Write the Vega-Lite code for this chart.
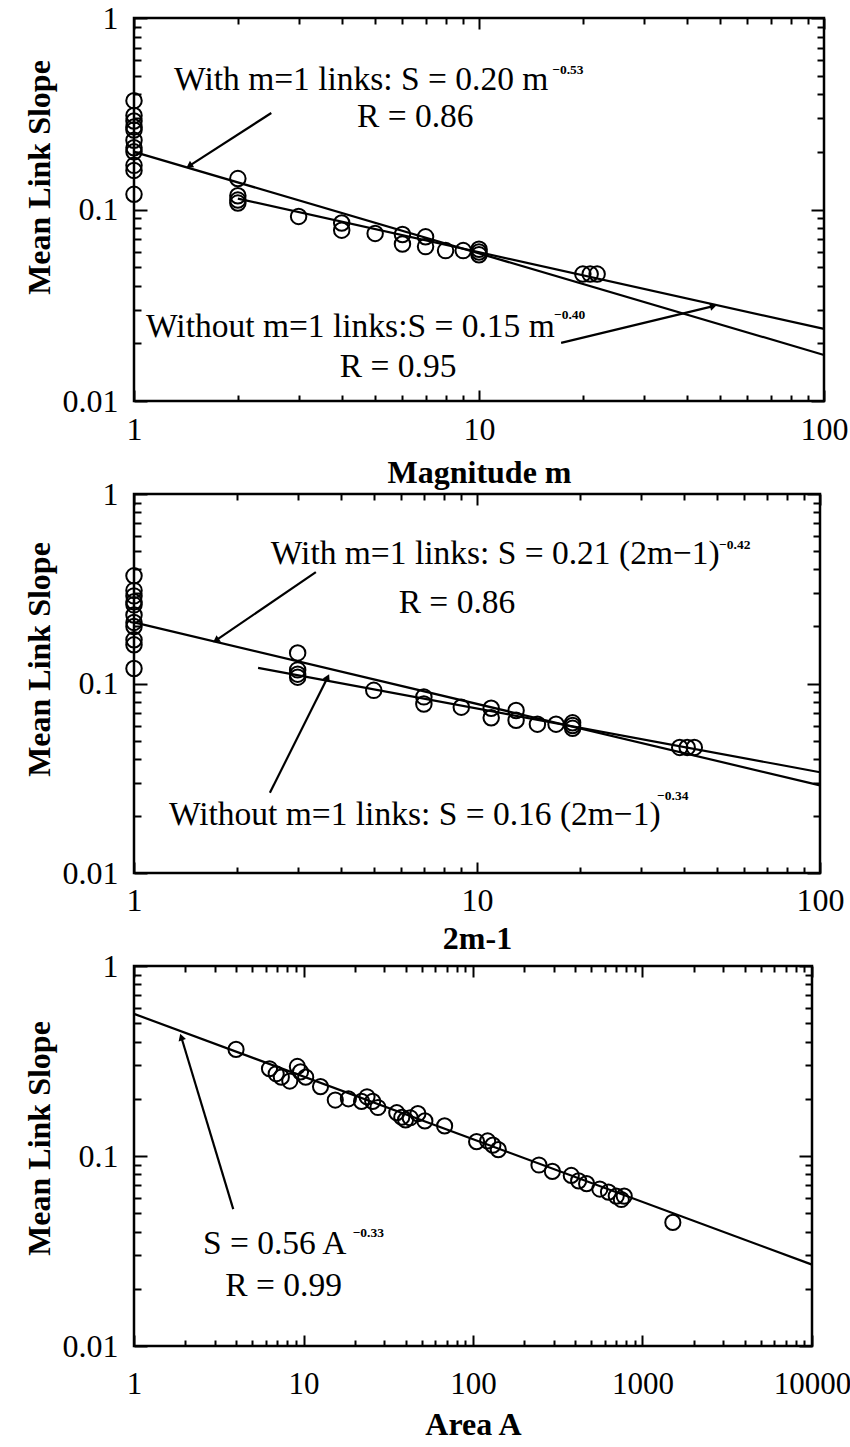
{
  "$schema": "https://vega.github.io/schema/vega-lite/v6.json",
  "background": "white",
  "padding": {"left": 21, "top": 0, "right": 0, "bottom": 0},
  "config": {
    "view": {"stroke": "black", "strokeWidth": 2.5},
    "font": "Liberation Serif",
    "axis": {"grid": false, "domain": false, "labelFont": "Liberation Serif", "labelFontSize": 32, "labelColor": "black", "tickColor": "black", "tickWidth": 2, "titleFont": "Liberation Serif", "titleFontSize": 32, "titleFontWeight": "bold", "titleColor": "black"}
  },
  "datasets": {
    "mpts": [
      {"m": 1, "m2": 1, "s": 0.37}, {"m": 1, "m2": 1, "s": 0.31}, {"m": 1, "m2": 1, "s": 0.29}, {"m": 1, "m2": 1, "s": 0.27}, {"m": 1, "m2": 1, "s": 0.26}, {"m": 1, "m2": 1, "s": 0.23}, {"m": 1, "m2": 1, "s": 0.21}, {"m": 1, "m2": 1, "s": 0.2}, {"m": 1, "m2": 1, "s": 0.17}, {"m": 1, "m2": 1, "s": 0.16}, {"m": 1, "m2": 1, "s": 0.12},
      {"m": 2, "m2": 3, "s": 0.145}, {"m": 2, "m2": 3, "s": 0.118}, {"m": 2, "m2": 3, "s": 0.112}, {"m": 2, "m2": 3, "s": 0.108},
      {"m": 3, "m2": 5, "s": 0.092},
      {"m": 4, "m2": 7, "s": 0.085}, {"m": 4, "m2": 7, "s": 0.078},
      {"m": 5, "m2": 9, "s": 0.075},
      {"m": 6, "m2": 11, "s": 0.074}, {"m": 6, "m2": 11, "s": 0.066},
      {"m": 7, "m2": 13, "s": 0.072}, {"m": 7, "m2": 13, "s": 0.064},
      {"m": 8, "m2": 15, "s": 0.061},
      {"m": 9, "m2": 17, "s": 0.061},
      {"m": 10, "m2": 19, "s": 0.062}, {"m": 10, "m2": 19, "s": 0.06}, {"m": 10, "m2": 19, "s": 0.058},
      {"m": 20, "m2": 39, "s": 0.046}, {"m": 21, "m2": 41, "s": 0.046}, {"m": 22, "m2": 43, "s": 0.046}
    ],
    "apts": [
      {"A": 4.0, "s": 0.364}, {"A": 6.3, "s": 0.288}, {"A": 6.9, "s": 0.271}, {"A": 7.4, "s": 0.26}, {"A": 8.3, "s": 0.248}, {"A": 9.2, "s": 0.296}, {"A": 9.6, "s": 0.277}, {"A": 10.3, "s": 0.26}, {"A": 12.6, "s": 0.232}, {"A": 15.4, "s": 0.197}, {"A": 18.4, "s": 0.2}, {"A": 22, "s": 0.194}, {"A": 23.7, "s": 0.205}, {"A": 25.6, "s": 0.194}, {"A": 27.5, "s": 0.18}, {"A": 35.5, "s": 0.169}, {"A": 38, "s": 0.16}, {"A": 40, "s": 0.155}, {"A": 42.6, "s": 0.159}, {"A": 47.3, "s": 0.167}, {"A": 52, "s": 0.153}, {"A": 68, "s": 0.144}, {"A": 105, "s": 0.119}, {"A": 122, "s": 0.12}, {"A": 131, "s": 0.114}, {"A": 141, "s": 0.108}, {"A": 245, "s": 0.0897}, {"A": 294, "s": 0.083}, {"A": 380, "s": 0.079}, {"A": 420, "s": 0.074}, {"A": 468, "s": 0.0715}, {"A": 560, "s": 0.067}, {"A": 630, "s": 0.0646}, {"A": 700, "s": 0.0615}, {"A": 750, "s": 0.059}, {"A": 780, "s": 0.0615}, {"A": 1510, "s": 0.0447}
    ],
    "p1fitA": [{"x": 1, "s": 0.2}, {"x": 100, "s": 0.0174}],
    "p1fitB": [{"x": 2, "s": 0.114}, {"x": 100, "s": 0.0238}],
    "p1arr": [{"x": 2.5, "y": 0.319, "x2": 1.446, "y2": 0.169}, {"x": 17.3, "y": 0.0201, "x2": 47.8, "y2": 0.0313}],
    "p1txt": [
      {"x": 1.307, "y": 0.42, "t": "With m=1 links:  S = 0.20 m"},
      {"x": 4.43, "y": 0.27, "t": "R = 0.86"},
      {"x": 1.084, "y": 0.0216, "t": "Without m=1 links:S = 0.15 m"},
      {"x": 3.95, "y": 0.0133, "t": "R = 0.95"}
    ],
    "p1sup": [{"x": 16.3, "y": 0.51, "t": "−0.53"}, {"x": 16.5, "y": 0.0268, "t": "−0.40"}],
    "p2fitA": [{"x": 1, "s": 0.21}, {"x": 100, "s": 0.029}],
    "p2fitB": [{"x": 2.3, "s": 0.121}, {"x": 100, "s": 0.034}],
    "p2arr": [{"x": 3.39, "y": 0.387, "x2": 1.733, "y2": 0.169}, {"x": 2.49, "y": 0.0265, "x2": 3.67, "y2": 0.108}],
    "p2txt": [
      {"x": 2.505, "y": 0.426, "t": "With m=1 links:  S = 0.21 (2m−1)"},
      {"x": 5.91, "y": 0.2346, "t": "R = 0.86"},
      {"x": 1.264, "y": 0.01795, "t": "Without m=1 links:  S = 0.16 (2m−1)"}
    ],
    "p2sup": [{"x": 50.8, "y": 0.512, "t": "−0.42"}, {"x": 33.5, "y": 0.0243, "t": "−0.34"}],
    "p3fit": [{"x": 1, "s": 0.56}, {"x": 10000, "s": 0.0268}],
    "p3arr": [{"x": 3.85, "y": 0.0525, "x2": 1.9, "y2": 0.423}],
    "p3txt": [
      {"x": 2.55, "y": 0.0305, "t": "S = 0.56 A"},
      {"x": 3.46, "y": 0.01836, "t": "R = 0.99"}
    ],
    "p3sup": [{"x": 19.5, "y": 0.0373, "t": "−0.33"}]
  },
  "spacing": 93,
  "bounds": "flush",
  "vconcat": [
    {
      "width": 690, "height": 383,
      "resolve": {"axis": {"x": "independent", "y": "independent"}},
      "layer": [
        {
          "data": {"name": "mpts"},
          "mark": {"type": "point", "shape": "circle", "filled": false, "stroke": "black", "strokeWidth": 2, "size": 240, "opacity": 1},
          "encoding": {
            "x": {"field": "m", "type": "quantitative", "scale": {"type": "log", "domain": [1, 100], "nice": false},
              "axis": {"orient": "bottom", "values": [1, 10, 100], "format": "~g", "labelFlush": false, "ticks": false, "labelPadding": 13, "title": "Magnitude m", "titlePadding": 12}},
            "y": {"field": "s", "type": "quantitative", "scale": {"type": "log", "domain": [0.01, 1], "nice": false},
              "axis": {"orient": "left", "values": [0.01, 0.1, 1], "format": "~g", "ticks": false, "labelPadding": 16, "title": "Mean Link Slope", "titlePadding": 6, "titleY": 159}}
          }
        },
        {
          "data": {"name": "p1fitA"},
          "mark": {"type": "line", "color": "black", "strokeWidth": 2.2},
          "encoding": {
            "x": {"field": "x", "type": "quantitative", "scale": {"type": "log", "domain": [1, 100], "nice": false},
              "axis": {"orient": "bottom", "values": [1, 10, 100], "labels": false, "tickSize": -11, "title": null}},
            "y": {"field": "s", "type": "quantitative", "scale": {"type": "log", "domain": [0.01, 1], "nice": false},
              "axis": {"orient": "left", "values": [0.01, 0.1, 1], "labels": false, "tickSize": -13, "title": null}}
          }
        },
        {
          "data": {"name": "p1fitB"},
          "mark": {"type": "line", "color": "black", "strokeWidth": 2.2},
          "encoding": {
            "x": {"field": "x", "type": "quantitative", "scale": {"type": "log", "domain": [1, 100], "nice": false},
              "axis": {"orient": "bottom", "values": [2, 3, 4, 5, 6, 7, 8, 9, 20, 30, 40, 50, 60, 70, 80, 90], "labels": false, "tickSize": -6, "title": null}},
            "y": {"field": "s", "type": "quantitative", "scale": {"type": "log", "domain": [0.01, 1], "nice": false},
              "axis": {"orient": "left", "values": [0.02, 0.03, 0.04, 0.05, 0.06, 0.07, 0.08, 0.09, 0.2, 0.3, 0.4, 0.5, 0.6, 0.7, 0.8, 0.9], "labels": false, "tickSize": -7, "title": null}}
          }
        },
        {
          "data": {"name": "p1arr"},
          "mark": {"type": "rule", "color": "black", "strokeWidth": 2.2},
          "encoding": {
            "x": {"field": "x", "type": "quantitative", "scale": {"type": "log", "domain": [1, 100], "nice": false},
              "axis": {"orient": "top", "values": [1, 10, 100], "labels": false, "tickSize": -11, "title": null}},
            "y": {"field": "y", "type": "quantitative", "scale": {"type": "log", "domain": [0.01, 1], "nice": false},
              "axis": {"orient": "right", "values": [0.01, 0.1, 1], "labels": false, "tickSize": -13, "title": null}},
            "x2": {"field": "x2"},
            "y2": {"field": "y2"}
          }
        },
        {
          "data": {"values": [{"x": 1.446, "y": 0.169}]},
          "mark": {"type": "point", "shape": "triangle-up", "filled": true, "color": "black", "size": 60, "angle": 237, "opacity": 1},
          "encoding": {
            "x": {"field": "x", "type": "quantitative", "scale": {"type": "log", "domain": [1, 100], "nice": false},
              "axis": {"orient": "top", "values": [2, 3, 4, 5, 6, 7, 8, 9, 20, 30, 40, 50, 60, 70, 80, 90], "labels": false, "tickSize": -6, "title": null}},
            "y": {"field": "y", "type": "quantitative", "scale": {"type": "log", "domain": [0.01, 1], "nice": false},
              "axis": {"orient": "right", "values": [0.02, 0.03, 0.04, 0.05, 0.06, 0.07, 0.08, 0.09, 0.2, 0.3, 0.4, 0.5, 0.6, 0.7, 0.8, 0.9], "labels": false, "tickSize": -7, "title": null}}
          }
        },
        {
          "data": {"values": [{"x": 47.8, "y": 0.0313}]},
          "mark": {"type": "point", "shape": "triangle-up", "filled": true, "color": "black", "size": 60, "angle": 76, "opacity": 1},
          "encoding": {
            "x": {"field": "x", "type": "quantitative", "scale": {"type": "log", "domain": [1, 100], "nice": false}, "axis": null},
            "y": {"field": "y", "type": "quantitative", "scale": {"type": "log", "domain": [0.01, 1], "nice": false}, "axis": null}
          }
        },
        {
          "data": {"name": "p1txt"},
          "mark": {"type": "text", "align": "left", "baseline": "alphabetic", "font": "Liberation Serif", "fontSize": 33.5, "color": "black"},
          "encoding": {
            "x": {"field": "x", "type": "quantitative", "scale": {"type": "log", "domain": [1, 100], "nice": false}, "axis": null},
            "y": {"field": "y", "type": "quantitative", "scale": {"type": "log", "domain": [0.01, 1], "nice": false}, "axis": null},
            "text": {"field": "t"}
          }
        },
        {
          "data": {"name": "p1sup"},
          "mark": {"type": "text", "align": "left", "baseline": "alphabetic", "font": "Liberation Serif", "fontSize": 13.5, "fontWeight": "bold", "color": "black"},
          "encoding": {
            "x": {"field": "x", "type": "quantitative", "scale": {"type": "log", "domain": [1, 100], "nice": false}, "axis": null},
            "y": {"field": "y", "type": "quantitative", "scale": {"type": "log", "domain": [0.01, 1], "nice": false}, "axis": null},
            "text": {"field": "t"}
          }
        }
      ]
    },
    {
      "width": 686, "height": 379,
      "resolve": {"axis": {"x": "independent", "y": "independent"}},
      "layer": [
        {
          "data": {"name": "mpts"},
          "mark": {"type": "point", "shape": "circle", "filled": false, "stroke": "black", "strokeWidth": 2, "size": 240, "opacity": 1},
          "encoding": {
            "x": {"field": "m2", "type": "quantitative", "scale": {"type": "log", "domain": [1, 100], "nice": false},
              "axis": {"orient": "bottom", "values": [1, 10, 100], "format": "~g", "labelFlush": false, "ticks": false, "labelPadding": 12, "title": "2m-1", "titlePadding": 7}},
            "y": {"field": "s", "type": "quantitative", "scale": {"type": "log", "domain": [0.01, 1], "nice": false},
              "axis": {"orient": "left", "values": [0.01, 0.1, 1], "format": "~g", "ticks": false, "labelPadding": 16, "title": "Mean Link Slope", "titlePadding": 6, "titleY": 165}}
          }
        },
        {
          "data": {"name": "p2fitA"},
          "mark": {"type": "line", "color": "black", "strokeWidth": 2.2},
          "encoding": {
            "x": {"field": "x", "type": "quantitative", "scale": {"type": "log", "domain": [1, 100], "nice": false},
              "axis": {"orient": "bottom", "values": [1, 10, 100], "labels": false, "tickSize": -11, "title": null}},
            "y": {"field": "s", "type": "quantitative", "scale": {"type": "log", "domain": [0.01, 1], "nice": false},
              "axis": {"orient": "left", "values": [0.01, 0.1, 1], "labels": false, "tickSize": -13, "title": null}}
          }
        },
        {
          "data": {"name": "p2fitB"},
          "mark": {"type": "line", "color": "black", "strokeWidth": 2.2},
          "encoding": {
            "x": {"field": "x", "type": "quantitative", "scale": {"type": "log", "domain": [1, 100], "nice": false},
              "axis": {"orient": "bottom", "values": [2, 3, 4, 5, 6, 7, 8, 9, 20, 30, 40, 50, 60, 70, 80, 90], "labels": false, "tickSize": -6, "title": null}},
            "y": {"field": "s", "type": "quantitative", "scale": {"type": "log", "domain": [0.01, 1], "nice": false},
              "axis": {"orient": "left", "values": [0.02, 0.03, 0.04, 0.05, 0.06, 0.07, 0.08, 0.09, 0.2, 0.3, 0.4, 0.5, 0.6, 0.7, 0.8, 0.9], "labels": false, "tickSize": -7, "title": null}}
          }
        },
        {
          "data": {"name": "p2arr"},
          "mark": {"type": "rule", "color": "black", "strokeWidth": 2.2},
          "encoding": {
            "x": {"field": "x", "type": "quantitative", "scale": {"type": "log", "domain": [1, 100], "nice": false},
              "axis": {"orient": "top", "values": [1, 10, 100], "labels": false, "tickSize": -11, "title": null}},
            "y": {"field": "y", "type": "quantitative", "scale": {"type": "log", "domain": [0.01, 1], "nice": false},
              "axis": {"orient": "right", "values": [0.01, 0.1, 1], "labels": false, "tickSize": -13, "title": null}},
            "x2": {"field": "x2"},
            "y2": {"field": "y2"}
          }
        },
        {
          "data": {"values": [{"x": 1.733, "y": 0.169}]},
          "mark": {"type": "point", "shape": "triangle-up", "filled": true, "color": "black", "size": 60, "angle": 236, "opacity": 1},
          "encoding": {
            "x": {"field": "x", "type": "quantitative", "scale": {"type": "log", "domain": [1, 100], "nice": false},
              "axis": {"orient": "top", "values": [2, 3, 4, 5, 6, 7, 8, 9, 20, 30, 40, 50, 60, 70, 80, 90], "labels": false, "tickSize": -6, "title": null}},
            "y": {"field": "y", "type": "quantitative", "scale": {"type": "log", "domain": [0.01, 1], "nice": false},
              "axis": {"orient": "right", "values": [0.02, 0.03, 0.04, 0.05, 0.06, 0.07, 0.08, 0.09, 0.2, 0.3, 0.4, 0.5, 0.6, 0.7, 0.8, 0.9], "labels": false, "tickSize": -7, "title": null}}
          }
        },
        {
          "data": {"values": [{"x": 3.67, "y": 0.108}]},
          "mark": {"type": "point", "shape": "triangle-up", "filled": true, "color": "black", "size": 60, "angle": 26, "opacity": 1},
          "encoding": {
            "x": {"field": "x", "type": "quantitative", "scale": {"type": "log", "domain": [1, 100], "nice": false}, "axis": null},
            "y": {"field": "y", "type": "quantitative", "scale": {"type": "log", "domain": [0.01, 1], "nice": false}, "axis": null}
          }
        },
        {
          "data": {"name": "p2txt"},
          "mark": {"type": "text", "align": "left", "baseline": "alphabetic", "font": "Liberation Serif", "fontSize": 33.5, "color": "black"},
          "encoding": {
            "x": {"field": "x", "type": "quantitative", "scale": {"type": "log", "domain": [1, 100], "nice": false}, "axis": null},
            "y": {"field": "y", "type": "quantitative", "scale": {"type": "log", "domain": [0.01, 1], "nice": false}, "axis": null},
            "text": {"field": "t"}
          }
        },
        {
          "data": {"name": "p2sup"},
          "mark": {"type": "text", "align": "left", "baseline": "alphabetic", "font": "Liberation Serif", "fontSize": 13.5, "fontWeight": "bold", "color": "black"},
          "encoding": {
            "x": {"field": "x", "type": "quantitative", "scale": {"type": "log", "domain": [1, 100], "nice": false}, "axis": null},
            "y": {"field": "y", "type": "quantitative", "scale": {"type": "log", "domain": [0.01, 1], "nice": false}, "axis": null},
            "text": {"field": "t"}
          }
        }
      ]
    },
    {
      "width": 678, "height": 380,
      "resolve": {"axis": {"x": "independent", "y": "independent"}},
      "layer": [
        {
          "data": {"name": "apts"},
          "mark": {"type": "point", "shape": "circle", "filled": false, "stroke": "black", "strokeWidth": 2, "size": 230, "opacity": 1},
          "encoding": {
            "x": {"field": "A", "type": "quantitative", "scale": {"type": "log", "domain": [1, 10000], "nice": false},
              "axis": {"orient": "bottom", "values": [1, 10, 100, 1000, 10000], "format": "~g", "labelFlush": false, "ticks": false, "labelFontSize": 31, "labelPadding": 23, "title": "Area A", "titlePadding": 10}},
            "y": {"field": "s", "type": "quantitative", "scale": {"type": "log", "domain": [0.01, 1], "nice": false},
              "axis": {"orient": "left", "values": [0.01, 0.1, 1], "format": "~g", "ticks": false, "labelPadding": 16, "title": "Mean Link Slope", "titlePadding": 6, "titleY": 172}}
          }
        },
        {
          "data": {"name": "p3fit"},
          "mark": {"type": "line", "color": "black", "strokeWidth": 2.2},
          "encoding": {
            "x": {"field": "x", "type": "quantitative", "scale": {"type": "log", "domain": [1, 10000], "nice": false},
              "axis": {"orient": "bottom", "values": [1, 10, 100, 1000, 10000], "labels": false, "tickSize": -11, "title": null}},
            "y": {"field": "s", "type": "quantitative", "scale": {"type": "log", "domain": [0.01, 1], "nice": false},
              "axis": {"orient": "left", "values": [0.01, 0.1, 1], "labels": false, "tickSize": -13, "title": null}}
          }
        },
        {
          "data": {"name": "p3arr"},
          "mark": {"type": "rule", "color": "black", "strokeWidth": 2.2},
          "encoding": {
            "x": {"field": "x", "type": "quantitative", "scale": {"type": "log", "domain": [1, 10000], "nice": false},
              "axis": {"orient": "bottom", "values": [2, 3, 4, 5, 6, 7, 8, 9, 20, 30, 40, 50, 60, 70, 80, 90, 200, 300, 400, 500, 600, 700, 800, 900, 2000, 3000, 4000, 5000, 6000, 7000, 8000, 9000], "labels": false, "tickSize": -6, "title": null}},
            "y": {"field": "y", "type": "quantitative", "scale": {"type": "log", "domain": [0.01, 1], "nice": false},
              "axis": {"orient": "left", "values": [0.02, 0.03, 0.04, 0.05, 0.06, 0.07, 0.08, 0.09, 0.2, 0.3, 0.4, 0.5, 0.6, 0.7, 0.8, 0.9], "labels": false, "tickSize": -7, "title": null}},
            "x2": {"field": "x2"},
            "y2": {"field": "y2"}
          }
        },
        {
          "data": {"values": [{"x": 1.9, "y": 0.423}]},
          "mark": {"type": "point", "shape": "triangle-up", "filled": true, "color": "black", "size": 60, "angle": 342, "opacity": 1},
          "encoding": {
            "x": {"field": "x", "type": "quantitative", "scale": {"type": "log", "domain": [1, 10000], "nice": false},
              "axis": {"orient": "top", "values": [1, 10, 100, 1000, 10000], "labels": false, "tickSize": -11, "title": null}},
            "y": {"field": "y", "type": "quantitative", "scale": {"type": "log", "domain": [0.01, 1], "nice": false},
              "axis": {"orient": "right", "values": [0.01, 0.1, 1], "labels": false, "tickSize": -13, "title": null}}
          }
        },
        {
          "data": {"name": "p3txt"},
          "mark": {"type": "text", "align": "left", "baseline": "alphabetic", "font": "Liberation Serif", "fontSize": 33.5, "color": "black"},
          "encoding": {
            "x": {"field": "x", "type": "quantitative", "scale": {"type": "log", "domain": [1, 10000], "nice": false},
              "axis": {"orient": "top", "values": [2, 3, 4, 5, 6, 7, 8, 9, 20, 30, 40, 50, 60, 70, 80, 90, 200, 300, 400, 500, 600, 700, 800, 900, 2000, 3000, 4000, 5000, 6000, 7000, 8000, 9000], "labels": false, "tickSize": -6, "title": null}},
            "y": {"field": "y", "type": "quantitative", "scale": {"type": "log", "domain": [0.01, 1], "nice": false},
              "axis": {"orient": "right", "values": [0.02, 0.03, 0.04, 0.05, 0.06, 0.07, 0.08, 0.09, 0.2, 0.3, 0.4, 0.5, 0.6, 0.7, 0.8, 0.9], "labels": false, "tickSize": -7, "title": null}},
            "text": {"field": "t"}
          }
        },
        {
          "data": {"name": "p3sup"},
          "mark": {"type": "text", "align": "left", "baseline": "alphabetic", "font": "Liberation Serif", "fontSize": 13.5, "fontWeight": "bold", "color": "black"},
          "encoding": {
            "x": {"field": "x", "type": "quantitative", "scale": {"type": "log", "domain": [1, 10000], "nice": false}, "axis": null},
            "y": {"field": "y", "type": "quantitative", "scale": {"type": "log", "domain": [0.01, 1], "nice": false}, "axis": null},
            "text": {"field": "t"}
          }
        }
      ]
    }
  ]
}
